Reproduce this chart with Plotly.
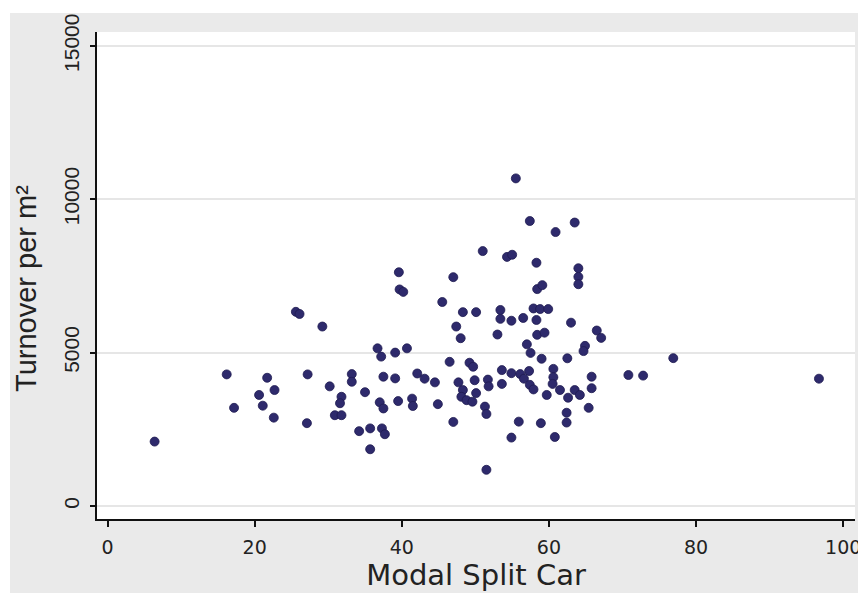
import plotly.graph_objects as go

# Modal split car (%) and turnover per m2
modal_split = [
    6.4, 16.2, 17.2, 21.7, 20.6, 21.1, 22.7, 22.6, 25.6, 26.1,
    29.2, 27.2, 27.1, 30.2, 31.8, 31.6, 30.9, 31.8, 33.2, 33.2,
    35.0, 37.5, 39.1, 34.2, 35.7, 37.3, 37.7, 35.7, 37.0, 37.5,
    39.5, 41.4, 41.5, 36.7, 37.2, 39.1, 40.7, 39.6, 39.7, 40.2,
    42.1, 43.1, 44.5, 44.9, 45.5, 47.0, 47.0, 48.3, 50.1, 47.4,
    48.0, 46.5, 49.2, 49.7, 47.7, 48.3, 48.1, 48.8, 49.6, 49.9,
    50.1, 51.7, 51.8, 51.3, 51.5, 53.6, 53.6, 54.9, 56.1, 57.3,
    56.6, 57.4, 57.9, 51.5, 54.9, 55.9, 58.9, 60.8, 62.4, 62.4,
    65.4, 59.7, 62.6, 63.5, 64.2, 61.5, 60.6, 60.6, 60.5, 65.8,
    65.8, 59.0, 62.5, 64.9, 64.7, 57.0, 57.5, 58.4, 59.4, 53.0,
    66.5, 67.1, 63.0, 58.3, 56.5, 54.9, 53.4, 53.4, 57.9, 58.8,
    59.9, 58.4, 59.1, 64.0, 64.0, 64.0, 58.3, 54.3, 55.0, 51.0,
    57.4, 60.9, 63.5, 55.5, 70.8, 72.8, 76.9, 96.7,
]
turnover = [
    2100, 4290, 3200, 4180, 3620, 3270, 3780, 2880, 6330, 6260,
    5850, 4290, 2700, 3900, 3560, 3350, 2960, 2960, 4300, 4050,
    3710, 4215, 4160, 2440, 2530, 2530, 2340, 1850, 3380, 3180,
    3420, 3500, 3260, 5140, 4870, 5000, 5140, 7620, 7060, 6980,
    4320, 4150, 4030, 3320, 6650, 7460, 2740, 6320, 6320, 5850,
    5470, 4700, 4670, 4540, 4030, 3780, 3560, 3450, 3400, 4100,
    3680, 4120, 3900, 3240, 3000, 3980, 4430, 4330, 4300, 4400,
    4150, 3950, 3800, 1180, 2230, 2750, 2700, 2250, 2720, 3040,
    3200, 3620, 3530, 3780, 3620, 3780, 4470, 4200, 3980, 4215,
    3840, 4800, 4815, 5220, 5050, 5270, 4990, 5580, 5650, 5590,
    5720, 5480, 5976, 6064, 6130, 6040, 6100, 6390, 6440, 6420,
    6420, 7070, 7200, 7750, 7470, 7230, 7930, 8120, 8190, 8310,
    9290, 8930, 9240, 10680, 4270, 4250, 4820, 4150,
]
x_ticks = [0, 20, 40, 60, 80, 100]
y_ticks = [0, 5000, 10000, 15000]

fig = go.Figure()
fig.add_trace(go.Scatter(
    x=modal_split, y=turnover, mode="markers",
    marker=dict(symbol="circle", size=9, color="#2E2A6C",
                line=dict(color="#1E1A50", width=0.8)),
    showlegend=False, hoverinfo="x+y",
))

# The page body adds an 8px white margin, so the figure is 8px smaller than the window
W, H = 858, 585
L, R, T, B = 89, 11, 24, 74
pw, ph = W - L - R, H - T - B
def px2x(px):
    return (px - L) / pw
def py2y(py):
    return (H - B - py) / ph
ox0, ox1, oy0, oy1 = px2x(2), px2x(858), py2y(585), py2y(5)
path = (f"M{ox0},{oy0} L{ox1},{oy0} L{ox1},{oy1} L{ox0},{oy1} Z "
        f"M0,0 L0,1 L1,1 L1,0 Z")
fig.add_shape(type="path", path=path, xref="paper", yref="paper",
              fillcolor="#EAEAEA", line=dict(width=0), layer="below")

# y-axis title as a rotated annotation
fig.add_annotation(
    text="Turnover per m²", textangle=-90, showarrow=False,
    xref="paper", yref="paper", x=px2x(18), y=py2y(281),
    xanchor="center", yanchor="middle",
    font=dict(family="Liberation Sans, Arial, sans-serif", size=29, color="#222"),
)

fig.update_layout(
    width=W, height=H,
    margin=dict(l=L, r=R, t=T, b=B, pad=0),
    paper_bgcolor="white",
    plot_bgcolor="rgba(0,0,0,0)",
    font=dict(family="Liberation Sans, Arial, sans-serif", color="#1a1a1a"),
    xaxis=dict(
        range=[-1.43, 101.6], tickvals=x_ticks, ticktext=[str(v) for v in x_ticks],
        automargin=False,
        showgrid=False, zeroline=False, showline=True, linecolor="#111", linewidth=2,
        ticks="outside", ticklen=6, tickwidth=2, tickcolor="#111",
        ticklabelstandoff=4,
        tickfont=dict(family="DejaVu Sans, sans-serif", size=19, color="#222"),
        title=dict(text="Modal Split Car",
                   font=dict(family="DejaVu Sans, sans-serif", size=29, color="#222"),
                   standoff=6),
    ),
    yaxis=dict(
        range=[-424, 15452], tickvals=y_ticks, ticktext=[str(v) for v in y_ticks],
        automargin=False,
        showgrid=True, gridcolor="#E6E6E6", gridwidth=1.5, zeroline=False,
        showline=True, linecolor="#111", linewidth=2,
        ticks="outside", ticklen=5, tickwidth=2, tickcolor="#111",
        tickangle=-90, ticklabelstandoff=3,
        tickfont=dict(family="Liberation Sans, Arial, sans-serif", size=21, color="#222"),
    ),
)
fig.write_html("out.html")
